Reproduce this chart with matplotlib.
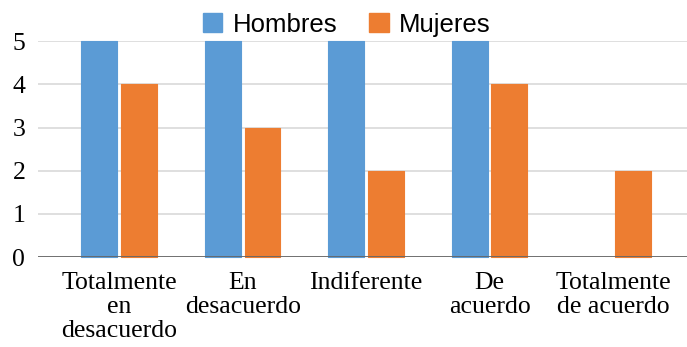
import numpy as np
import matplotlib.pyplot as plt
from matplotlib.patches import Patch

# Survey answers by gender
categorias = ['Totalmente\nen\ndesacuerdo', 'En\ndesacuerdo', 'Indiferente',
              'De\nacuerdo', 'Totalmente\nde acuerdo']
hombres = [5, 5, 5, 5, 0]
mujeres = [4, 3, 2, 4, 2]

azul = '#5B9BD5'
naranja = '#ED7D31'

fig = plt.figure(figsize=(6.87, 3.47), dpi=100)
ax = fig.add_axes([0.055, 0.259, 0.945, 0.6225])

x = np.arange(len(categorias))
ancho = 0.29
sep = 0.016
for vals, desp, col in [(hombres, -1, azul), (mujeres, 1, naranja)]:
    vals = np.array(vals)
    lw = np.where(vals > 0, 0.8, 0)
    ax.bar(x + desp * (ancho / 2 + sep), vals, ancho, color=col, edgecolor=col,
           linewidth=lw, joinstyle='round', zorder=3, clip_on=False)

ax.set_xlim(-0.66, 4.6)
ax.set_ylim(0, 5)
ax.set_yticks(range(6))
ax.grid(axis='y', color='#d9d9d9', linewidth=1.2, zorder=0)
ax.axhline(0, color='#666666', linewidth=2, zorder=4)
for s in ax.spines.values():
    s.set_visible(False)

ax.set_xticks(x)
ax.set_xticklabels(categorias, fontfamily='Liberation Serif', fontsize=18.5,
                   linespacing=1.12)
ax.tick_params(axis='x', length=0, pad=11)
ax.tick_params(axis='y', length=0, pad=9, labelsize=18.5)
for t in ax.get_yticklabels():
    t.set_fontfamily('Liberation Serif')

handles = [Patch(color=azul, label='Hombres'), Patch(color=naranja, label='Mujeres')]
fig.legend(handles=handles, loc='upper center', bbox_to_anchor=(0.505, 1.03),
           ncol=2, frameon=False, prop={'family': 'Liberation Sans', 'size': 18.5},
           handlelength=0.75, handleheight=0.75, handletextpad=0.4, columnspacing=1.25)

fig.savefig('out.png', dpi=100)
